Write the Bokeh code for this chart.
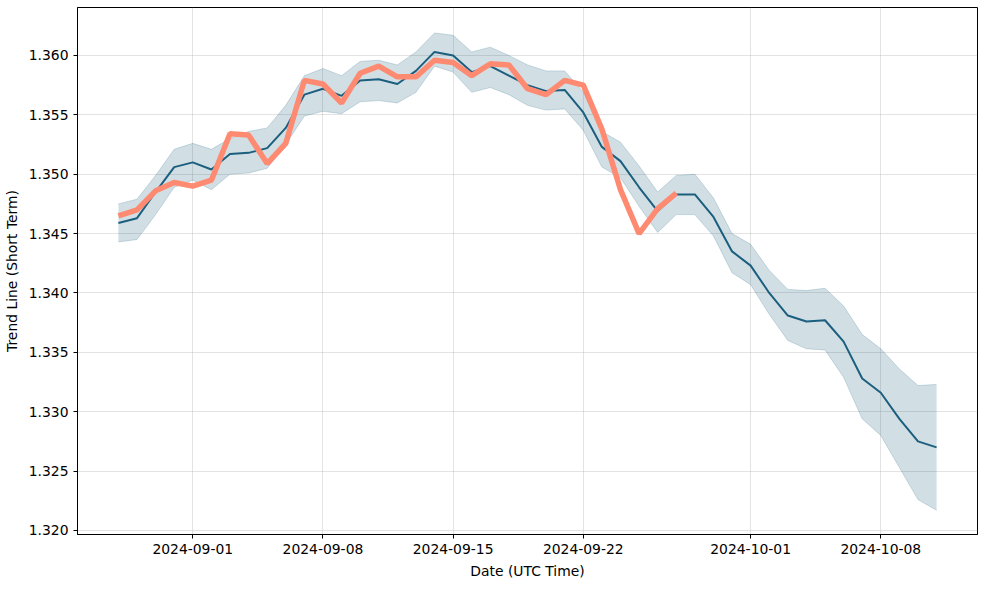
import pandas as pd
from bokeh.plotting import figure
from bokeh.models import FixedTicker, DatetimeTickFormatter, NumeralTickFormatter, Range1d, ColumnDataSource
from bokeh.embed import file_html
from bokeh.resources import INLINE

start_date = "2024-08-28"
n_days = 45

trend_mid = [1.3459, 1.3463, 1.3485, 1.3506, 1.3510, 1.3504, 1.3517, 1.3518, 1.3522, 1.3539,
             1.3567, 1.3572, 1.3566, 1.3579, 1.3580, 1.3576, 1.3587, 1.3603, 1.3600, 1.3586,
             1.3591, 1.3583, 1.3575, 1.3570, 1.3571, 1.3552, 1.3523, 1.3511, 1.3489, 1.3469,
             1.3483, 1.3483, 1.3464, 1.3435, 1.3423, 1.3400, 1.3381, 1.3376, 1.3377, 1.3359,
             1.3328, 1.3316, 1.3294, 1.3275, 1.3270]
trend_upper = [1.3475, 1.3479, 1.3499, 1.3521, 1.3526, 1.3521, 1.3530, 1.3536, 1.3539, 1.3558,
               1.3583, 1.3589, 1.3583, 1.3595, 1.3596, 1.3592, 1.3603, 1.3619, 1.3617, 1.3603,
               1.3607, 1.3600, 1.3592, 1.3587, 1.3587, 1.3569, 1.3536, 1.3527, 1.3507, 1.3485,
               1.3499, 1.3500, 1.3480, 1.3450, 1.3441, 1.3419, 1.3403, 1.3402, 1.3404, 1.3389,
               1.3365, 1.3353, 1.3336, 1.3322, 1.3323]
trend_lower = [1.3443, 1.3445, 1.3466, 1.3489, 1.3495, 1.3487, 1.3500, 1.3501, 1.3505, 1.3525,
               1.3549, 1.3553, 1.3551, 1.3561, 1.3562, 1.3560, 1.3569, 1.3591, 1.3586, 1.3569,
               1.3573, 1.3567, 1.3558, 1.3554, 1.3555, 1.3537, 1.3506, 1.3497, 1.3473, 1.3451,
               1.3466, 1.3466, 1.3448, 1.3417, 1.3407, 1.3382, 1.3360, 1.3353, 1.3352, 1.3329,
               1.3294, 1.3280, 1.3253, 1.3226, 1.3217]
actual = [1.3465, 1.3470, 1.3486, 1.3493, 1.3490, 1.3495, 1.3534, 1.3533, 1.3509, 1.3526,
          1.3579, 1.3576, 1.3560, 1.3585, 1.3591, 1.3582, 1.3582, 1.3596, 1.3594, 1.3583,
          1.3593, 1.3592, 1.3572, 1.3567, 1.3579, 1.3575, 1.3538, 1.3487, 1.3450, 1.3471,
          1.3484]
x_tick_labels = ["2024-09-01", "2024-09-08", "2024-09-15", "2024-09-22", "2024-10-01", "2024-10-08"]
y_ticks = [1.320, 1.325, 1.330, 1.335, 1.340, 1.345, 1.350, 1.355, 1.360]

dates = pd.date_range(start_date, periods=n_days)
src = ColumnDataSource(dict(x=dates, mid=trend_mid, up=trend_upper, lo=trend_lower))
src2 = ColumnDataSource(dict(x=dates[:len(actual)], y=actual))

span = dates[-1] - dates[0]
x0 = dates[0] - span * 0.05
x1 = dates[-1] + span * 0.05

p = figure(width=984, height=584, output_backend="svg", toolbar_location=None,
           x_axis_type="datetime",
           x_range=Range1d(x0, x1), y_range=Range1d(1.31966, 1.36404),
           min_border_left=76, min_border_right=7, min_border_top=7, min_border_bottom=50)

BLUE = "#1b5e7e"
p.varea(x="x", y1="lo", y2="up", source=src, fill_color=BLUE, fill_alpha=0.2)
p.line(x="x", y="up", source=src, line_color=BLUE, line_alpha=0.2, line_width=1)
p.line(x="x", y="lo", source=src, line_color=BLUE, line_alpha=0.2, line_width=1)
p.line(x="x", y="mid", source=src, line_color=BLUE, line_width=2)
p.line(x="x", y="y", source=src2, line_color="#ff8a72", line_width=5.5)

tick_ms = [pd.Timestamp(t).value / 1e6 for t in x_tick_labels]
p.xaxis.ticker = FixedTicker(ticks=tick_ms)
fmt = "%Y-%m-%d"
p.xaxis.formatter = DatetimeTickFormatter(days=fmt, months=fmt, hours=fmt, years=fmt,
                                          minutes=fmt, seconds=fmt, milliseconds=fmt)
p.yaxis.ticker = FixedTicker(ticks=y_ticks)
p.yaxis.formatter = NumeralTickFormatter(format="0.000")

p.xaxis.axis_label = "Date (UTC Time)"
p.yaxis.axis_label = "Trend Line (Short Term)"

for ax in (p.xaxis, p.yaxis):
    ax.axis_label_text_font = "DejaVu Sans"
    ax.axis_label_text_font_size = "13.9px"
    ax.axis_label_text_font_style = "normal"
    ax.axis_label_text_color = "black"
    ax.major_label_text_font = "DejaVu Sans"
    ax.major_label_text_font_size = "13.9px"
    ax.major_label_text_color = "black"
    ax.minor_tick_line_color = None
    ax.major_tick_in = 0
    ax.major_tick_out = 4
    ax.major_tick_line_color = "black"
    ax.axis_line_color = "black"
    ax.axis_label_standoff = 6
    ax.major_label_standoff = 5

p.grid.grid_line_color = "#b0b0b0"
p.grid.grid_line_alpha = 0.35
p.outline_line_color = "black"
p.outline_line_alpha = 1
p.outline_line_width = 1

open("out.html", "w").write(file_html(p, INLINE))
